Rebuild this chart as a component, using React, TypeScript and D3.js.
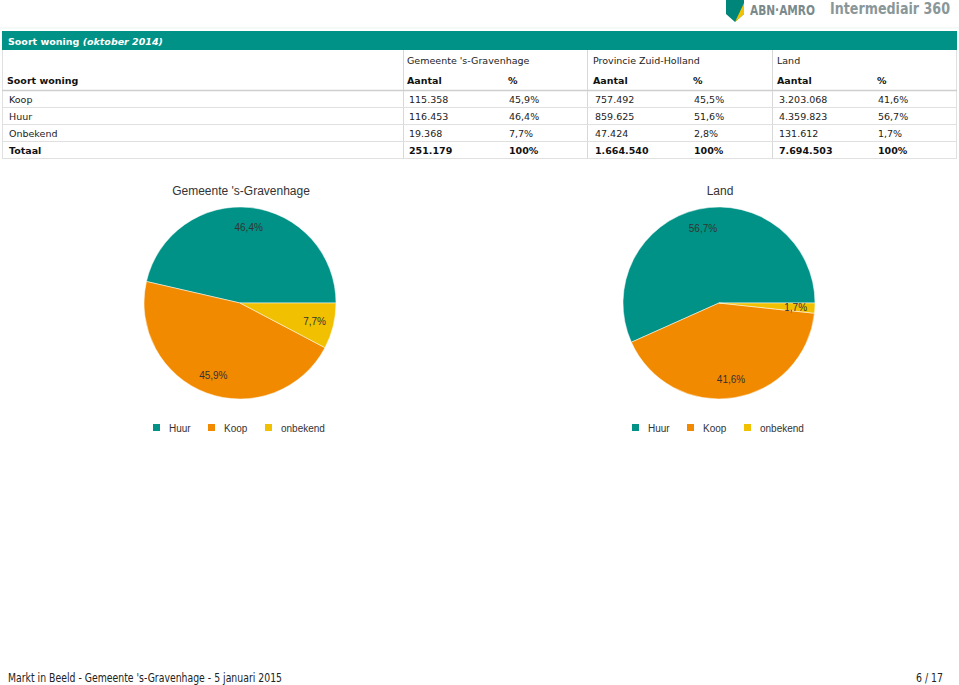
import React from 'react';
import * as d3 from 'd3';

const categories = ['Koop', 'Huur', 'Onbekend'];
const regions = ["Gemeente 's-Gravenhage", 'Provincie Zuid-Holland', 'Land'];
const gemeenteAantal = [115358, 116453, 19368];
const gemeentePct = [45.9, 46.4, 7.7];
const provincieAantal = [757492, 859625, 47424];
const provinciePct = [45.5, 51.6, 2.8];
const landAantal = [3203068, 4359823, 131612];
const landPct = [41.6, 56.7, 1.7];
const totalAantal = [251179, 1664540, 7694503];
const totalPct = [100, 100, 100];

const pieSeries = ['Huur', 'Koop', 'onbekend'];
const pieGemeente = [46.4, 45.9, 7.7];
const pieLand = [56.7, 41.6, 1.7];
const pieColors = ['#009286', '#F28A00', '#F1C000'];

const nl = d3.formatLocale({ decimal: ',', thousands: '.', grouping: [3], currency: ['€', ''] });
const fmtInt = nl.format(',d');
const fmtPct = (v: number) => (v === 100 ? '100' : nl.format('.1f')(v)) + '%';

const TEAL = '#009286';
const TABLE_FONT = 'DejaVu Sans, Verdana, sans-serif';
const CHART_FONT = 'Liberation Sans, Arial, sans-serif';
const TFS = 9.5;

function Pie({ cx, cy, title, values }: { cx: number; cy: number; title: string; values: number[] }) {
  const r = 96;
  const pie = d3.pie<number>().sort(null).value((d) => d).startAngle(Math.PI / 2).endAngle(Math.PI / 2 - 2 * Math.PI);
  const arcs = pie(values);
  const arc = d3.arc<d3.PieArcDatum<number>>().innerRadius(0).outerRadius(r);
  const labelArc = d3.arc<d3.PieArcDatum<number>>().innerRadius(r * 0.8).outerRadius(r * 0.8);
  const legendOffsets = [0, 55, 112];
  return (
    <g>
      <text x={cx + 1} y={cy - 108} textAnchor="middle" fontFamily={CHART_FONT} fontSize={12} fill="#333">{title}</text>
      <g transform={`translate(${cx},${cy})`}>
        {arcs.map((a, i) => (
          <path key={i} d={arc(a) || ''} fill={pieColors[i]} stroke="#fff" strokeWidth={0.5} />
        ))}
        {arcs.map((a, i) => {
          const [lx, ly] = labelArc.centroid(a);
          return (
            <text key={i} x={lx} y={ly + 4} textAnchor="middle" fontFamily={CHART_FONT} fontSize={10} fill="#333">
              {fmtPct(values[i])}
            </text>
          );
        })}
      </g>
      <g transform={`translate(${cx - 87},${cy + 121})`}>
        {pieSeries.map((s, i) => (
          <g key={s} transform={`translate(${legendOffsets[i]},0)`}>
            <rect x={0} y={0} width={7} height={7} fill={pieColors[i]} />
            <text x={16} y={7.5} fontFamily={CHART_FONT} fontSize={10} fill="#333">{s}</text>
          </g>
        ))}
      </g>
    </g>
  );
}

export default function App() {
  const groupX = [407, 593, 777];
  const pctX = [509, 694, 878];
  const sepX = [403, 587, 772];
  const aantal = [gemeenteAantal, provincieAantal, landAantal];
  const pcts = [gemeentePct, provinciePct, landPct];
  const rowY = d3.scaleLinear().domain([0, 1]).range([103, 120]);
  const lineY = [90, 107, 124, 141, 158];

  return (
    <svg width={959} height={685} style={{ position: 'absolute', left: 0, top: 0, background: '#fff' }}>
      {/* Logo */}
      <g>
        <path d="M726,0 L744,0 L744,14 L735,22 L726,14 Z" fill="#00857A" />
        <path d="M744,3 L744,14 L735,22 Z" fill="#F2C200" />
        <text x={750} y={15} fontFamily="DejaVu Sans, sans-serif" fontWeight="bold" fontSize={14} fill="#7a8a8c" textLength={65} lengthAdjust="spacingAndGlyphs">ABN·AMRO</text>
        <text x={830} y={14} fontFamily="DejaVu Sans, sans-serif" fontWeight="bold" fontSize={15.5} fill="#8a9799" textLength={120} lengthAdjust="spacingAndGlyphs">Intermediair 360</text>
        <line x1={0} y1={28} x2={959} y2={28} stroke="#eaf4f3" strokeWidth={1} />
      </g>

      {/* Header bar */}
      <rect x={2} y={31} width={955} height={19} fill={TEAL} />
      <text x={8} y={45} fontFamily={TABLE_FONT} fontSize={TFS} fontWeight="bold" fill="#fff">
        Soort woning <tspan fontStyle="italic">(oktober 2014)</tspan>
      </text>

      {/* Table borders */}
      <line x1={2.5} y1={50} x2={2.5} y2={158} stroke="#e0e0e0" />
      <line x1={956.5} y1={50} x2={956.5} y2={158} stroke="#e0e0e0" />
      {sepX.map((x) => (
        <line key={x} x1={x + 0.5} y1={50} x2={x + 0.5} y2={158} stroke="#d8d8d8" />
      ))}
      {lineY.map((y, i) => (
        <line key={y} x1={2} y1={y + 0.5} x2={957} y2={y + 0.5} stroke={i === 0 ? '#cfcfcf' : '#e0e0e0'} strokeWidth={i === 0 ? 1.5 : 1} />
      ))}

      {/* Group headers */}
      {regions.map((r, i) => (
        <text key={r} x={groupX[i]} y={64} fontFamily={TABLE_FONT} fontSize={TFS} fill="#222">{r}</text>
      ))}
      <text x={7} y={84} fontFamily={TABLE_FONT} fontSize={TFS} fontWeight="bold" fill="#111">Soort woning</text>
      {regions.map((r, i) => (
        <g key={r}>
          <text x={groupX[i]} y={84} fontFamily={TABLE_FONT} fontSize={TFS} fontWeight="bold" fill="#111">Aantal</text>
          <text x={pctX[i] - 1} y={84} fontFamily={TABLE_FONT} fontSize={TFS} fontWeight="bold" fill="#111">%</text>
        </g>
      ))}

      {/* Rows */}
      {categories.map((c, ri) => (
        <g key={c}>
          <text x={9} y={rowY(ri)} fontFamily={TABLE_FONT} fontSize={TFS} fill="#222">{c}</text>
          {regions.map((r, gi) => (
            <g key={r}>
              <text x={groupX[gi] + 2} y={rowY(ri)} fontFamily={TABLE_FONT} fontSize={TFS} fill="#222">{fmtInt(aantal[gi][ri])}</text>
              <text x={pctX[gi]} y={rowY(ri)} fontFamily={TABLE_FONT} fontSize={TFS} fill="#222">{fmtPct(pcts[gi][ri])}</text>
            </g>
          ))}
        </g>
      ))}
      <text x={9} y={rowY(3)} fontFamily={TABLE_FONT} fontSize={TFS} fontWeight="bold" fill="#111">Totaal</text>
      {regions.map((r, gi) => (
        <g key={r}>
          <text x={groupX[gi] + 2} y={rowY(3)} fontFamily={TABLE_FONT} fontSize={TFS} fontWeight="bold" fill="#111">{fmtInt(totalAantal[gi])}</text>
          <text x={pctX[gi]} y={rowY(3)} fontFamily={TABLE_FONT} fontSize={TFS} fontWeight="bold" fill="#111">{fmtPct(totalPct[gi])}</text>
        </g>
      ))}

      {/* Pies */}
      <Pie cx={240} cy={303} title="Gemeente 's-Gravenhage" values={pieGemeente} />
      <Pie cx={719} cy={303} title="Land" values={pieLand} />

      {/* Footer */}
      <text x={8} y={682} fontFamily={TABLE_FONT} fontSize={11.5} fill="#222" textLength={274} lengthAdjust="spacingAndGlyphs">Markt in Beeld - Gemeente 's-Gravenhage - 5 januari 2015</text>
      <text x={943} y={682} textAnchor="end" fontFamily={TABLE_FONT} fontSize={11.5} fill="#222" textLength={27} lengthAdjust="spacingAndGlyphs">6 / 17</text>
    </svg>
  );
}
